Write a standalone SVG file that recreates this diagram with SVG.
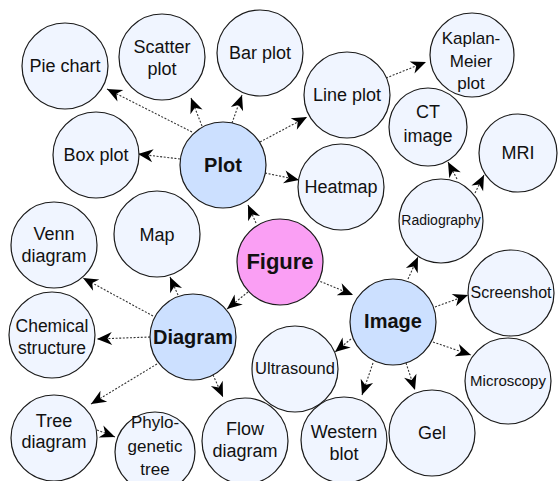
<svg xmlns="http://www.w3.org/2000/svg" width="558" height="481" viewBox="0 0 558 481">
<style>
.n{fill:#f0f5ff;stroke:#1a1a1a;stroke-width:1.2}
.h{fill:#cce0ff;stroke:#1a1a1a;stroke-width:1.2}
.f{fill:#fa9ff4;stroke:#1a1a1a;stroke-width:1.2}
text{font-family:"Liberation Sans",Arial,sans-serif;font-size:18px;fill:#111;text-anchor:middle}
.b{font-weight:bold;font-size:20px}
.e line{stroke:#333;stroke-width:1.1;stroke-dasharray:2 1.6;marker-end:url(#ah)}
</style>
<defs>
<marker id="ah" markerUnits="userSpaceOnUse" markerWidth="18" markerHeight="16" viewBox="-17 -8 18 16" refX="0" refY="0" orient="auto">
<path d="M0,0 L-15,-6.5 L-10.5,0 L-15,6.5 Z" fill="#000"/>
</marker>
</defs>
<g id="edges" class="e">
<line x1="256" y1="223" x2="248" y2="205"/>
<line x1="248" y1="292" x2="227" y2="309"/>
<line x1="317" y1="280" x2="353" y2="295"/>
<line x1="192" y1="132" x2="107" y2="89"/>
<line x1="202" y1="126" x2="191" y2="98"/>
<line x1="232" y1="123" x2="242" y2="95"/>
<line x1="180" y1="159" x2="138" y2="154"/>
<line x1="260" y1="142" x2="307" y2="117"/>
<line x1="265" y1="173" x2="299" y2="180"/>
<line x1="386" y1="78" x2="426" y2="62"/>
<line x1="408" y1="279" x2="418" y2="257"/>
<line x1="457" y1="179" x2="448" y2="162"/>
<line x1="475" y1="193" x2="484" y2="175"/>
<line x1="435" y1="307" x2="468" y2="295"/>
<line x1="433" y1="342" x2="471" y2="355"/>
<line x1="406" y1="363" x2="415" y2="390"/>
<line x1="373" y1="363" x2="362" y2="395"/>
<line x1="351" y1="339" x2="335" y2="352"/>
<line x1="178" y1="295" x2="170" y2="277"/>
<line x1="153" y1="316" x2="83" y2="278"/>
<line x1="150" y1="337" x2="97" y2="339"/>
<line x1="157" y1="364" x2="91" y2="404"/>
<line x1="213" y1="375" x2="223" y2="397"/>
<line x1="97" y1="430" x2="115" y2="437"/>
</g>
<g id="figure"><circle class="f" cx="280" cy="262" r="43"/><text class="b" x="280" y="269" style="font-size:22px">Figure</text></g>
<g id="plot"><circle class="h" cx="223" cy="165" r="43"/><text class="b" x="223" y="172">Plot</text></g>
<g id="diagram"><circle class="h" cx="193" cy="337" r="43"/><text class="b" x="193" y="344">Diagram</text></g>
<g id="image"><circle class="h" cx="393" cy="322" r="43"/><text class="b" x="393" y="328">Image</text></g>
<g id="pie"><circle class="n" cx="65" cy="66" r="43"/><text x="65" y="72">Pie chart</text></g>
<g id="scatter"><circle class="n" cx="162" cy="57" r="43"/><text x="162" y="53">Scatter</text><text x="162" y="75">plot</text></g>
<g id="bar"><circle class="n" cx="260" cy="53" r="43"/><text x="260" y="59">Bar plot</text></g>
<g id="box"><circle class="n" cx="96" cy="155" r="43"/><text x="96" y="161">Box plot</text></g>
<g id="line"><circle class="n" cx="347" cy="95" r="43"/><text x="347" y="101">Line plot</text></g>
<g id="heatmap"><circle class="n" cx="341" cy="187" r="43"/><text x="341" y="193">Heatmap</text></g>
<g id="kaplan"><circle class="n" cx="472" cy="55" r="42"/><text x="471" y="44" style="font-size:17px">Kaplan-</text><text x="471" y="67" style="font-size:17px">Meier</text><text x="471" y="89" style="font-size:17px">plot</text></g>
<g id="ct"><circle class="n" cx="428" cy="127" r="39"/><text x="428" y="118">CT</text><text x="428" y="142">image</text></g>
<g id="mri"><circle class="n" cx="518" cy="153" r="39"/><text x="518" y="159">MRI</text></g>
<g id="radiography"><circle class="n" cx="441" cy="221" r="42"/><text x="441" y="225" style="font-size:14px">Radiography</text></g>
<g id="venn"><circle class="n" cx="54" cy="245" r="43"/><text x="54" y="240">Venn</text><text x="54" y="262">diagram</text></g>
<g id="map"><circle class="n" cx="157" cy="234" r="43"/><text x="157" y="241">Map</text></g>
<g id="chemical"><circle class="n" cx="52" cy="335" r="43"/><text x="52" y="332" style="font-size:17.5px">Chemical</text><text x="52" y="354" style="font-size:17.5px">structure</text></g>
<g id="tree"><circle class="n" cx="54" cy="438" r="43"/><text x="54" y="427">Tree</text><text x="54" y="448">diagram</text></g>
<g id="phylo"><circle class="n" cx="155" cy="452" r="40"/><text x="155" y="428" style="font-size:17px">Phylo-</text><text x="155" y="452" style="font-size:17px">genetic</text><text x="155" y="475" style="font-size:17px">tree</text></g>
<g id="flow"><circle class="n" cx="245" cy="441" r="43"/><text x="245" y="435">Flow</text><text x="245" y="457">diagram</text></g>
<g id="ultrasound"><circle class="n" cx="295" cy="369" r="43"/><text x="295" y="374" style="font-size:16.5px">Ultrasound</text></g>
<g id="western"><circle class="n" cx="344" cy="440" r="43"/><text x="344" y="438">Western</text><text x="344" y="460">blot</text></g>
<g id="gel"><circle class="n" cx="432" cy="433" r="43"/><text x="432" y="439">Gel</text></g>
<g id="screenshot"><circle class="n" cx="511" cy="293" r="43"/><text x="511" y="298" style="font-size:16px">Screenshot</text></g>
<g id="microscopy"><circle class="n" cx="508" cy="381" r="43"/><text x="508" y="386" style="font-size:15px">Microscopy</text></g>
</svg>
